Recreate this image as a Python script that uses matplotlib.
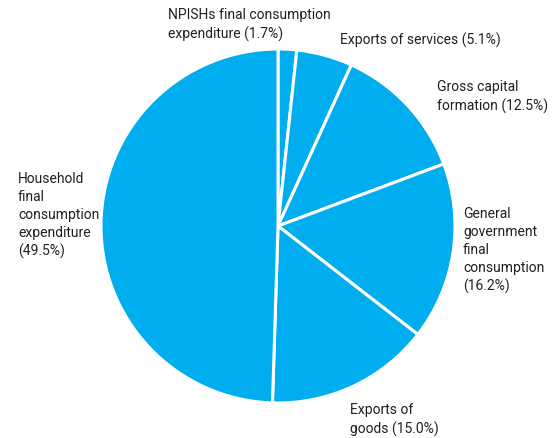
import matplotlib
matplotlib.use("Agg")
import matplotlib.pyplot as plt

# Shares of GDP by expenditure component (percent), clockwise from the top
labels = [
    "NPISHs final consumption\nexpenditure",
    "Exports of services",
    "Gross capital\nformation",
    "General\ngovernment\nfinal\nconsumption",
    "Exports of\ngoods",
    "Household\nfinal\nconsumption\nexpenditure",
]
values = [1.7, 5.1, 12.5, 16.2, 15.0, 49.5]
# Whether the percentage goes on its own line
pct_newline = [False, False, False, True, False, True]

# Label anchor points (left, top) in pixel units of the canvas
label_pos = [(168, 8), (340, 33), (437, 80), (463, 207), (350, 403), (18, 172)]

W, H = 555, 438
fig = plt.figure(figsize=(W / 100, H / 100), dpi=100)
ax = fig.add_axes([0, 0, 1, 1])
ax.set_xlim(0, W)
ax.set_ylim(0, H)
ax.set_aspect("equal")
ax.axis("off")

cx, cy, r = 278, H - 226, 177
ax.pie(values, startangle=90, counterclock=False, center=(cx, cy), radius=r,
       colors=["#00AEEF"] * len(values),
       wedgeprops=dict(edgecolor="white", linewidth=2.2))
ax.set_xlim(0, W)
ax.set_ylim(0, H)

for lab, v, nl, (x, y) in zip(labels, values, pct_newline, label_pos):
    sep = "\n" if nl else " "
    ax.text(x, H - y, f"{lab}{sep}({v:.1f}%)", ha="left", va="top",
            fontsize=10, family="Roboto", color="#231F20", linespacing=1.35)

fig.savefig("out.png", dpi=100, facecolor="white")
